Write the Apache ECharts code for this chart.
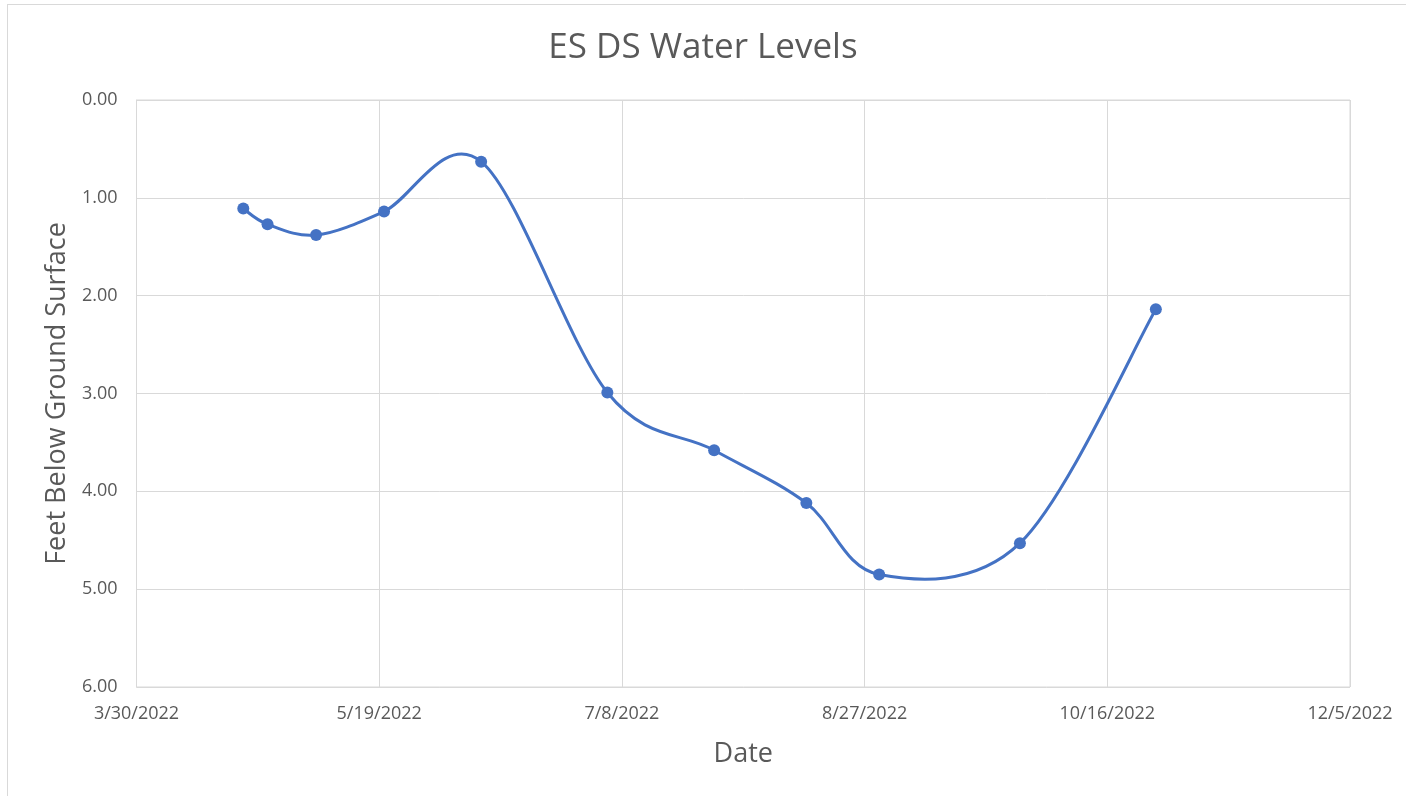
<!DOCTYPE html>
<html>
<head>
<meta charset="utf-8">
<script src="https://cdn.jsdelivr.net/npm/echarts@6/dist/echarts.min.js"></script>
<style>
  html, body { margin: 0; padding: 0; background: #fff; overflow: hidden; }
  #frame { position: absolute; left: 7px; top: 4px; width: 1420px; height: 820px; border: 1px solid #d9d9d9; }
  #chart { position: absolute; left: 0; top: 0; width: 1406px; height: 796px; }
</style>
</head>
<body>
<div id="frame"></div>
<div id="chart"></div>
<script>
// sample dates and depth to water (feet below ground surface)
var dates = ['4/21/2022', '4/26/2022', '5/6/2022', '5/20/2022', '6/9/2022', '7/5/2022',
             '7/27/2022', '8/15/2022', '8/30/2022', '9/28/2022', '10/26/2022'];
var levels = [1.11, 1.27, 1.38, 1.14, 0.63, 2.99, 3.58, 4.12, 4.85, 4.53, 2.14];

// x axis range as excel day numbers (3/30/2022 .. 12/5/2022, step 50 days)
var xMin = 44650;
var xMax = 44900;
var xStep = 50;

var DAY = 86400000;
var BASE = Date.UTC(1899, 11, 30);

function toSerial(s) {
    var p = s.split('/');
    return Math.round((Date.UTC(+p[2], +p[0] - 1, +p[1]) - BASE) / DAY);
}
function fromSerial(n) {
    var d = new Date(BASE + n * DAY);
    return (d.getUTCMonth() + 1) + '/' + d.getUTCDate() + '/' + d.getUTCFullYear();
}

var points = [];
for (var i = 0; i < dates.length; i++) {
    points.push([toSerial(dates[i]), levels[i]]);
}

var myChart = echarts.init(document.getElementById('chart'));
var textColor = '#595959';
var gridColor = '#d9d9d9';
var lineColor = '#4472C4';
var font = 'Open Sans, Noto Sans, sans-serif';

// excel style smoothed segment i -> i+1 (catmull-rom as bezier)
function renderSegment(params, api) {
    var i = params.dataIndex;
    if (i >= points.length - 1) return null;
    var p0 = api.coord(points[Math.max(i - 1, 0)]);
    var p1 = api.coord(points[i]);
    var p2 = api.coord(points[i + 1]);
    var p3 = api.coord(points[Math.min(i + 2, points.length - 1)]);
    var c1 = [p1[0] + (p2[0] - p0[0]) / 6, p1[1] + (p2[1] - p0[1]) / 6];
    var c2 = [p2[0] - (p3[0] - p1[0]) / 6, p2[1] - (p3[1] - p1[1]) / 6];
    return {
        type: 'bezierCurve',
        shape: {
            x1: p1[0], y1: p1[1],
            cpx1: c1[0], cpy1: c1[1],
            cpx2: c2[0], cpy2: c2[1],
            x2: p2[0], y2: p2[1]
        },
        style: { stroke: lineColor, lineWidth: 3, fill: null, lineCap: 'round' }
    };
}

var option = {
    animation: false,
    title: {
        text: 'ES DS Water Levels',
        left: 'center',
        top: 26,
        textStyle: { color: textColor, fontSize: 35, fontWeight: 'normal', fontFamily: font }
    },
    grid: {
        left: 136.5,
        right: 56,
        top: 100,
        bottom: 109,
        show: true,
        borderColor: gridColor,
        borderWidth: 1
    },
    xAxis: {
        type: 'value',
        min: xMin,
        max: xMax,
        interval: xStep,
        name: 'Date',
        nameLocation: 'middle',
        nameGap: 54,
        nameTextStyle: { color: textColor, fontSize: 27, fontFamily: font },
        axisLine: { show: true, lineStyle: { color: gridColor, width: 1 } },
        axisTick: { show: false },
        axisLabel: {
            color: textColor, fontSize: 18, fontFamily: font, margin: 18,
            formatter: function (v) { return fromSerial(v); }
        },
        splitLine: { show: true, lineStyle: { color: gridColor, width: 1 } }
    },
    yAxis: {
        type: 'value',
        inverse: true,
        min: 0,
        max: 6,
        interval: 1,
        name: 'Feet Below Ground Surface',
        nameLocation: 'middle',
        nameGap: 66,
        nameTextStyle: { color: textColor, fontSize: 27, fontFamily: font },
        axisLine: { show: true, lineStyle: { color: gridColor, width: 1 } },
        axisTick: { show: false },
        axisLabel: {
            color: textColor, fontSize: 18, fontFamily: font, margin: 19,
            formatter: function (v) { return v.toFixed(2); }
        },
        splitLine: { show: true, lineStyle: { color: gridColor, width: 1 } }
    },
    series: [
        {
            type: 'custom',
            data: points,
            renderItem: renderSegment,
            z: 2
        },
        {
            type: 'scatter',
            data: points,
            symbol: 'circle',
            symbolSize: 12,
            itemStyle: { color: lineColor, opacity: 1 },
            z: 3
        }
    ]
};

myChart.setOption(option);
</script>
</body>
</html>
